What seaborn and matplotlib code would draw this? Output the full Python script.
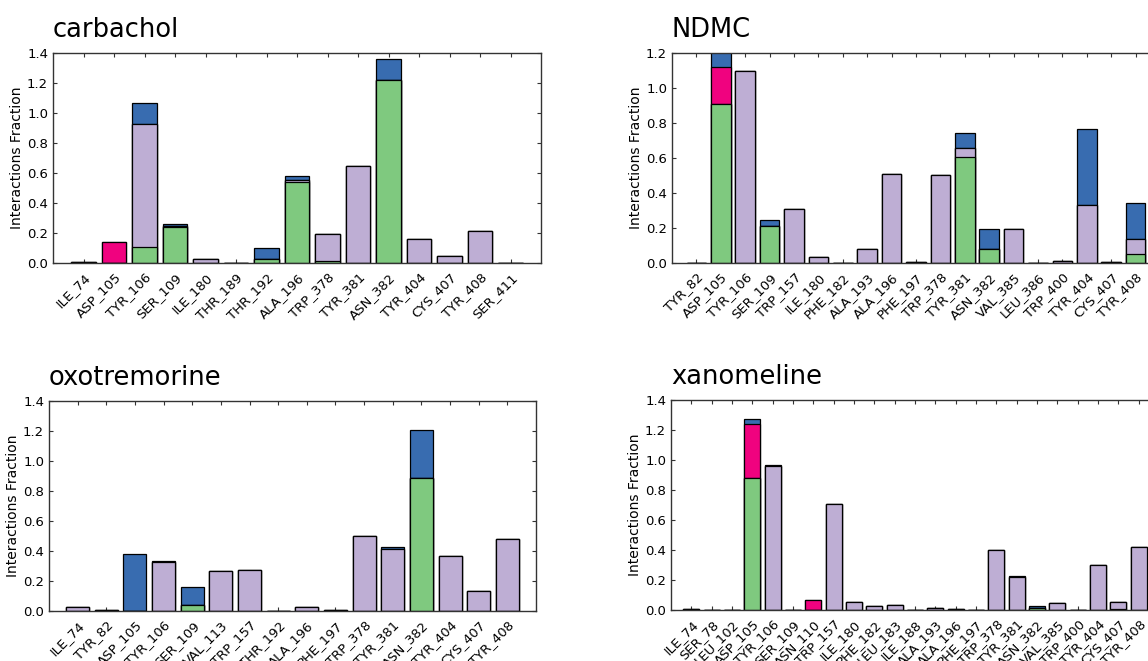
import pandas as pd
import seaborn as sns
import matplotlib.pyplot as plt

# Interaction fractions per residue (stacked: H-bonds, hydrophobic, ionic, water bridges)
carbachol_res = ['ILE_74', 'ASP_105', 'TYR_106', 'SER_109', 'ILE_180', 'THR_189', 'THR_192', 'ALA_196',
                 'TRP_378', 'TYR_381', 'ASN_382', 'TYR_404', 'CYS_407', 'TYR_408', 'SER_411']
carbachol_hbond = [0, 0, 0.11, 0.243, 0, 0, 0.03, 0.543, 0.012, 0, 1.223, 0, 0, 0, 0]
carbachol_hydro = [0.004, 0, 0.82, 0.005, 0.027, 0, 0, 0.01, 0.181, 0.645, 0, 0.16, 0.049, 0.213, 0]
carbachol_ionic = [0, 0.137, 0, 0, 0, 0, 0, 0, 0, 0, 0, 0, 0, 0, 0]
carbachol_water = [0, 0, 0.138, 0.012, 0, 0, 0.07, 0.027, 0, 0.002, 0.139, 0, 0, 0, 0]

ndmc_res = ['TYR_82', 'ASP_105', 'TYR_106', 'SER_109', 'TRP_157', 'ILE_180', 'PHE_182', 'ALA_193', 'ALA_196',
            'PHE_197', 'TRP_378', 'TYR_381', 'ASN_382', 'VAL_385', 'LEU_386', 'TRP_400', 'TYR_404', 'CYS_407',
            'TYR_408']
ndmc_hbond = [0, 0.909, 0, 0.21, 0, 0, 0, 0, 0, 0, 0, 0.608, 0.08, 0, 0, 0, 0, 0, 0.051]
ndmc_hydro = [0, 0, 1.095, 0, 0.311, 0.034, 0, 0.078, 0.511, 0.006, 0.505, 0.047, 0, 0.196, 0, 0.014, 0.332,
              0.005, 0.088]
ndmc_ionic = [0, 0.211, 0, 0, 0, 0, 0, 0, 0, 0, 0, 0, 0, 0, 0, 0, 0, 0, 0]
ndmc_water = [0, 0.09, 0, 0.035, 0, 0, 0, 0, 0, 0, 0, 0.089, 0.116, 0, 0, 0, 0.432, 0, 0.205]

oxo_res = ['ILE_74', 'TYR_82', 'ASP_105', 'TYR_106', 'SER_109', 'VAL_113', 'TRP_157', 'THR_192', 'ALA_196',
           'PHE_197', 'TRP_378', 'TYR_381', 'ASN_382', 'TYR_404', 'CYS_407', 'TYR_408']
oxo_hbond = [0, 0, 0, 0, 0.042, 0, 0, 0, 0, 0, 0, 0, 0.887, 0, 0, 0]
oxo_hydro = [0.024, 0.005, 0, 0.325, 0, 0.268, 0.273, 0, 0.024, 0.005, 0.497, 0.415, 0, 0.364, 0.135, 0.481]
oxo_ionic = [0, 0, 0, 0, 0, 0, 0, 0, 0, 0, 0, 0, 0, 0, 0, 0]
oxo_water = [0, 0, 0.382, 0.01, 0.12, 0, 0, 0, 0, 0, 0, 0.009, 0.322, 0.006, 0, 0]

xano_res = ['ILE_74', 'SER_78', 'LEU_102', 'ASP_105', 'TYR_106', 'SER_109', 'ASN_110', 'TRP_157', 'ILE_180',
            'PHE_182', 'LEU_183', 'ILE_188', 'ALA_193', 'ALA_196', 'PHE_197', 'TRP_378', 'TYR_381', 'ASN_382',
            'VAL_385', 'TRP_400', 'TYR_404', 'CYS_407', 'TYR_408']
xano_hbond = [0, 0, 0, 0.878, 0, 0, 0, 0, 0, 0, 0, 0, 0, 0, 0, 0, 0, 0.012, 0, 0, 0, 0.008, 0]
xano_hydro = [0.007, 0, 0, 0, 0.962, 0, 0, 0.707, 0.053, 0.029, 0.031, 0, 0.016, 0.008, 0, 0.4, 0.22, 0,
              0.044, 0, 0.3, 0.045, 0.42]
xano_ionic = [0, 0, 0, 0.362, 0, 0, 0.067, 0, 0, 0, 0, 0, 0, 0, 0, 0, 0, 0, 0, 0, 0, 0, 0]
xano_water = [0, 0, 0, 0.033, 0.006, 0, 0, 0, 0, 0, 0, 0, 0, 0, 0, 0, 0.008, 0.016, 0, 0, 0, 0, 0]

# Accent colours
green, purple, pink, blue = '#7fc97f', '#beaed4', '#f0027f', '#386cb0'

sns.set_style('ticks', {'xtick.direction': 'in', 'ytick.direction': 'in',
                        'axes.edgecolor': 'black', 'text.color': 'black',
                        'axes.labelcolor': 'black', 'xtick.color': 'black', 'ytick.color': 'black',
                        'font.family': ['DejaVu Sans']})

fig = plt.figure(figsize=(11.48, 6.61), dpi=100)

W, H = 1148, 661
# axes boxes in pixels: left, top, right, bottom (right panels run past the image edge)
boxes = [(53, 53, 541, 263), (672, 53, 1160, 263), (49, 401, 536, 611), (671, 400, 1159, 610)]

panels = [
    ('carbachol', carbachol_res, carbachol_hbond, carbachol_hydro, carbachol_ionic, carbachol_water, 1.4),
    ('NDMC', ndmc_res, ndmc_hbond, ndmc_hydro, ndmc_ionic, ndmc_water, 1.2),
    ('oxotremorine', oxo_res, oxo_hbond, oxo_hydro, oxo_ionic, oxo_water, 1.4),
    ('xanomeline', xano_res, xano_hbond, xano_hydro, xano_ionic, xano_water, 1.4),
]

for (name, res, hb, hy, io, wa, ymax), (l, t, r, b) in zip(panels, boxes):
    ax = fig.add_axes([l / W, (H - b) / H, (r - l) / W, (b - t) / H])
    df = pd.DataFrame({'residue': res, 'hbond': hb, 'hydro': hy, 'ionic': io, 'water': wa})
    df['c1'] = df['hbond']
    df['c2'] = df['c1'] + df['hydro']
    df['c3'] = df['c2'] + df['ionic']
    df['c4'] = df['c3'] + df['water']

    # draw cumulative totals from the top layer down so they look stacked
    for col, c in [('c4', blue), ('c3', pink), ('c2', purple), ('c1', green)]:
        sns.barplot(data=df, x='residue', y=col, order=res, color=c, saturation=1,
                    edgecolor='black', linewidth=0.9, errorbar=None, width=0.8, ax=ax)

    n = len(res)
    ax.set_xlim(-1, n)
    ax.set_ylim(0, ymax)
    ax.set_xticks(range(n))
    ax.set_xticklabels(res, rotation=45, ha='right', va='top', rotation_mode='anchor')
    ax.set_xlabel('')
    ax.set_ylabel('Interactions Fraction', fontsize=10, labelpad=2)
    ax.tick_params(axis='both', direction='in', top=True, right=True, length=3, width=0.8,
                   labelsize=9.5, color='#333333')
    ax.tick_params(axis='x', pad=5.5)
    for sp in ax.spines.values():
        sp.set_linewidth(1.0)
        sp.set_color('#333333')
    ax.set_title(name, loc='left', fontsize=18.5, pad=11.5, color='black')

fig.savefig('out.png', dpi=100)
